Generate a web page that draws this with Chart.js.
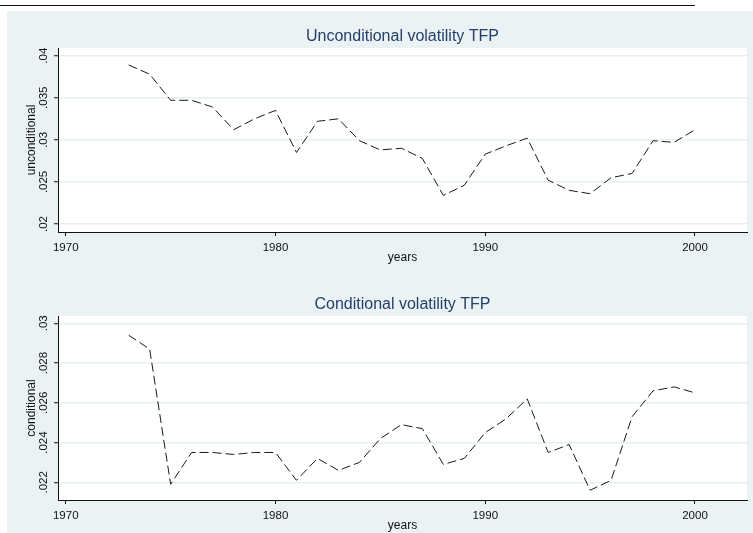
<!DOCTYPE html>
<html lang="en">

<head>
  <meta charset="UTF-8">
  <script src="https://cdn.jsdelivr.net/npm/chart.js"></script>
  <title>Volatility TFP</title>
  <style>
    body { margin: 0; background: #fff; width: 753px; height: 533px; overflow: hidden; position: relative; }
    #linha_topo { position: absolute; left: 0; top: 5px; width: 695px; height: 0; border-top: 1.5px solid #111; }
    #painel { position: absolute; left: 7px; top: 11px; width: 746px; height: 522px; background: #eaf2f3; }
    .grafico { position: absolute; left: 7px; width: 746px; height: 254px; }
    #g1 { top: 11px; }
    #g2 { top: 279px; }
  </style>
</head>

<body>
  <div id="linha_topo"></div>
  <div id="painel"></div>
  <div class="grafico" id="g1"><canvas id="linha1"></canvas></div>
  <div class="grafico" id="g2"><canvas id="linha2"></canvas></div>
</body>

<script>
  // dados
  const anos = [1973, 1974, 1975, 1976, 1977, 1978, 1979, 1980, 1981, 1982, 1983, 1984, 1985, 1986,
    1987, 1988, 1989, 1990, 1991, 1992, 1993, 1994, 1995, 1996, 1997, 1998, 1999, 2000];
  const incondicional = [0.0389, 0.0378, 0.0347, 0.0347, 0.0339, 0.0312, 0.0325, 0.0335, 0.0285, 0.0322,
    0.0325, 0.0299, 0.0288, 0.0290, 0.0278, 0.0234, 0.0246, 0.0283, 0.0293, 0.0302,
    0.0252, 0.0240, 0.0236, 0.0255, 0.0260, 0.0299, 0.0297, 0.0312];
  const condicional = [0.0294, 0.0287, 0.0219, 0.0235, 0.0235, 0.0234, 0.0235, 0.0235, 0.0221, 0.0232,
    0.0226, 0.0230, 0.0242, 0.0249, 0.0247, 0.0229, 0.0232, 0.0245, 0.0252, 0.0262,
    0.0235, 0.0239, 0.0216, 0.0221, 0.0253, 0.0266, 0.0268, 0.0265];
  const ticks_x = [1970, 1980, 1990, 2000];
  const ticks_y1 = [0.02, 0.025, 0.03, 0.035, 0.04];
  const ticks_y2 = [0.022, 0.024, 0.026, 0.028, 0.03];

  const fonte = '"Liberation Sans", Arial, sans-serif';

  // fundo branco so na area do grafico
  const fundo_branco = {
    id: 'fundo_branco',
    beforeDraw(chart) {
      const a = chart.chartArea;
      chart.ctx.save();
      chart.ctx.fillStyle = '#ffffff';
      chart.ctx.fillRect(a.left, a.top, a.right - a.left, a.bottom - a.top);
      chart.ctx.restore();
    }
  };

  function rotulo(v) {
    return String(+v.toFixed(4)).replace(/^0\./, '.');
  }

  function montar(canvas, titulo, nome_y, valores, ticks_y, ymin, ymax) {
    return new Chart(canvas, {
      type: 'line',
      data: {
        datasets: [{
          label: nome_y,
          data: anos.map((a, i) => ({ x: a, y: valores[i] })),
          borderColor: '#1a1a1a',
          borderWidth: 1,
          borderDash: [9, 4],
          pointRadius: 0,
          tension: 0
        }]
      },
      options: {
        responsive: true,
        maintainAspectRatio: false,
        animation: false,
        layout: { padding: { left: 0, right: 6, top: 0, bottom: 0 } },
        scales: {
          x: {
            type: 'linear',
            min: 1969.63,
            max: 2002.48,
            afterBuildTicks: s => { s.ticks = ticks_x.map(v => ({ value: v })); },
            afterFit: s => { s.height = 33; },
            ticks: {
              color: '#111',
              font: { family: fonte, size: 11.5 },
              padding: 5,
              maxRotation: 0,
              callback: v => String(v)
            },
            grid: { drawOnChartArea: false, drawTicks: true, tickLength: 4, tickColor: '#111', tickWidth: 1 },
            border: { color: '#111', width: 1 },
            title: {
              display: true,
              text: 'years',
              color: '#111',
              font: { family: fonte, size: 12 },
              padding: { top: 0, bottom: 0 }
            }
          },
          y: {
            min: ymin,
            max: ymax,
            afterBuildTicks: s => { s.ticks = ticks_y.map(v => ({ value: v })); },
            afterFit: s => { s.width = 51; },
            ticks: {
              color: '#111',
              font: { family: fonte, size: 11.5 },
              minRotation: 90,
              maxRotation: 90,
              crossAlign: 'center',
              padding: -1,
              callback: v => rotulo(v)
            },
            grid: { color: '#e6eff1', lineWidth: 1.5, tickLength: 4, tickColor: '#111', tickWidth: 1 },
            border: { color: '#111', width: 1 },
            title: {
              display: true,
              text: nome_y,
              color: '#111',
              font: { family: fonte, size: 12 },
              padding: { top: 17.5, bottom: 0 }
            }
          }
        },
        plugins: {
          legend: { display: false },
          tooltip: { enabled: false },
          title: {
            display: true,
            text: titulo,
            fullSize: false,
            color: '#243f69',
            font: { family: fonte, size: 16, weight: 'normal' },
            padding: { top: 16.1, bottom: 1.7 }
          }
        }
      },
      plugins: [fundo_branco]
    });
  }

  montar(document.getElementById('linha1'), 'Unconditional volatility TFP', 'unconditional',
    incondicional, ticks_y1, 0.019050, 0.040914);
  montar(document.getElementById('linha2'), 'Conditional volatility TFP', 'conditional',
    condicional, ticks_y2, 0.021109, 0.030367);
</script>

</html>
